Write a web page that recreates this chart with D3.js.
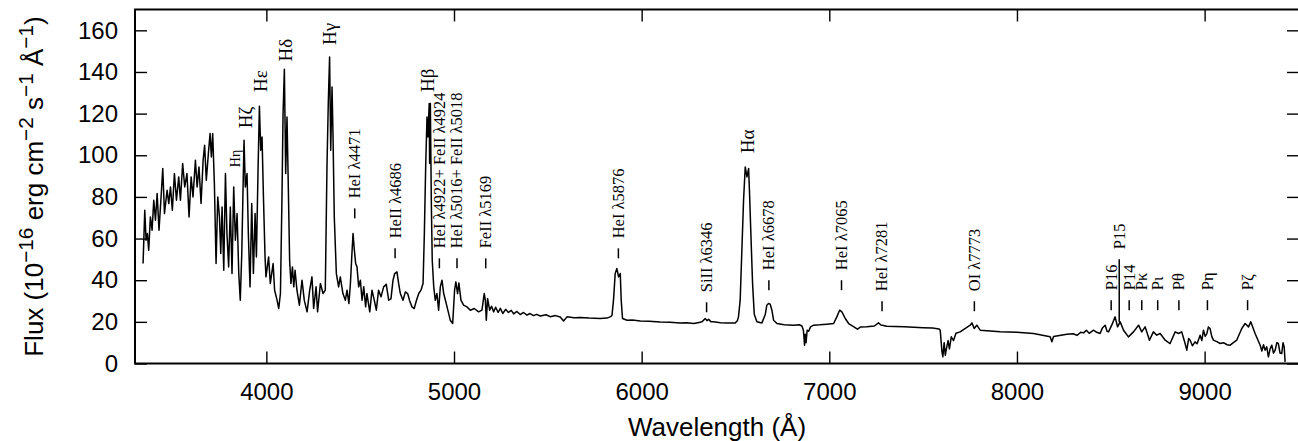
<!DOCTYPE html>
<html>
<head>
<meta charset="utf-8">
<script src="https://d3js.org/d3.v7.min.js"></script>
<style>
  body { margin: 0; background: #fff; }
  svg { display: block; }
</style>
</head>
<body>
<script>
// spectrum: wavelength (A) and flux (1e-16 erg/cm2/s/A)
var waves = [
  3343,3352,3359,3366,3373,3382,3391,3400,3409,3418,3428,3439,3448,3457,3471,3480,3489,3499,3510,3521,
  3533,3542,3554,3565,3577,3588,3599,3609,3622,3631,3641,3652,3663,3671,3680,3691,3700,3707,3714,3723,
  3732,3741,3750,3757,3764,3773,3782,3790,3799,3808,3817,3826,3835,3844,3853,3861,3869,3876,3881,3888,
  3897,3904,3913,3922,3931,3940,3947,3956,3963,3970,3977,3984,3993,3998,4012,4021,4036,4044,4057,4066,
  4075,4083,4089,4096,4103,4110,4117,4124,4131,4139,4146,4153,4163,4176,4190,4202,4217,4231,4243,4252,
  4265,4273,4288,4302,4314,4323,4330,4337,4343,4350,4355,4362,4373,4385,4394,4408,4421,4430,4440,4448,
  4456,4462,4469,4476,4483,4492,4501,4510,4519,4529,4536,4551,4563,4575,4586,4598,4611,4625,4639,4652,
  4664,4675,4684,4696,4705,4714,4728,4741,4753,4764,4776,4788,4799,4812,4824,4835,4842,4849,4856,4861,
  4865,4868,4870,4874,4879,4884,4892,4900,4909,4918,4927,4936,4945,4963,4980,4993,5003,5010,5019,5026,
  5037,5051,5069,5087,5108,5131,5149,5161,5167,5172,5179,5190,5200,5211,5222,5235,5247,5260,5275,5290,
  5305,5318,5335,5353,5370,5389,5405,5424,5440,5460,5490,5513,5540,5566,5584,5602,5640,5673,5720,5779,
  5815,5835,5842,5850,5859,5868,5877,5886,5891,5898,5922,5950,5993,6040,6099,6150,6206,6240,6277,6300,
  6321,6339,6348,6357,6370,6383,6420,6454,6499,6510,6516,6525,6534,6543,6552,6561,6570,6575,6582,6591,
  6600,6614,6641,6659,6667,6676,6685,6694,6703,6721,6760,6809,6840,6854,6862,6868,6872,6876,6882,6890,
  6900,6916,6950,6987,7023,7040,7055,7067,7085,7103,7131,7150,7165,7200,7240,7262,7275,7307,7350,7400,
  7450,7500,7550,7585,7591,7600,7605,7612,7618,7626,7633,7640,7650,7662,7675,7697,7751,7760,7772,7786,
  7804,7911,8000,8088,8177,8186,8195,8266,8300,8320,8340,8355,8370,8385,8408,8425,8443,8455,8470,8480,
  8488,8505,8523,8536,8550,8568,8594,8621,8648,8665,8683,8706,8727,8745,8763,8790,8816,8843,8861,8878,
  8896,8905,8915,8923,8935,8949,8960,8976,8985,8994,9003,9012,9020,9029,9038,9047,9065,9083,9100,9120,
  9136,9150,9171,9198,9216,9234,9246,9269,9296,9305,9314,9322,9331,9340,9349,9358,9367,9376,9385,9393,
  9402,9411,9418,9424,9429
];
var flux = [
  48.0,73.6,59.2,62.4,54.4,70.4,64.0,78.4,68.8,81.6,64.0,80.0,93.6,72.0,83.2,76.8,84.8,73.6,91.2,78.4,
  89.6,78.4,96.0,84.8,91.2,70.4,89.6,80.0,97.6,84.8,94.4,76.8,97.6,104.8,88.0,100.8,110.4,99.2,110.4,86.4,
  48.0,80.0,70.4,52.8,75.2,44.8,91.2,62.4,46.4,75.2,43.2,84.8,59.2,72.0,43.2,30.4,52.8,84.8,107.2,84.8,
  91.2,62.4,36.8,76.8,43.2,72.0,51.2,94.4,123.5,102.4,108.8,81.6,51.2,41.6,51.2,38.4,48.0,35.2,30.4,26.4,
  33.6,78.4,120.0,141.3,91.2,118.4,84.8,49.6,38.4,46.4,36.8,44.8,35.2,28.0,40.0,30.4,24.8,35.2,41.6,26.4,
  36.8,24.8,38.4,33.6,35.2,94.4,125.0,147.2,102.4,132.8,110.4,70.4,43.2,36.8,41.6,33.6,30.4,35.2,28.8,38.4,
  52.8,62.4,54.4,48.0,46.4,36.8,40.0,30.4,36.8,27.2,33.6,24.8,35.2,30.4,25.6,35.2,32.0,36.8,38.0,30.4,
  31.0,40.0,43.2,44.0,38.4,33.6,30.4,34.4,33.6,30.0,27.2,26.4,30.0,33.6,35.2,38.4,62.4,94.4,118.4,108.8,
  118.4,124.8,96.0,124.8,78.4,49.6,36.8,30.4,33.6,25.6,36.8,40.0,33.6,27.2,20.8,19.2,35.2,39.2,33.6,38.7,
  30.4,28.0,27.2,25.6,26.4,24.8,25.6,33.6,30.4,20.8,31.2,25.6,27.5,24.8,27.0,24.5,26.5,24.0,26.0,24.5,
  25.5,23.8,25.0,23.5,24.5,23.2,24.0,23.0,23.6,22.8,23.4,22.5,23.0,22.3,20.4,22.4,22.0,22.1,21.8,21.6,
  21.8,22.5,23.2,30.4,43.2,45.6,41.6,43.2,30.4,21.6,20.8,20.9,20.4,20.3,19.9,19.8,19.5,19.6,19.2,19.6,
  20.0,21.6,20.6,21.2,20.0,20.0,19.6,19.5,19.5,20.5,22.4,30.4,54.4,78.4,94.4,89.6,93.6,81.6,62.4,38.4,
  23.7,20.0,19.5,23.7,28.0,28.8,28.5,25.6,20.8,19.2,18.6,18.4,18.6,18.0,16.0,8.8,14.0,10.0,16.0,15.5,
  17.6,18.4,18.6,18.9,19.2,22.4,25.6,24.8,21.6,19.2,17.6,16.5,17.5,17.6,18.0,19.5,18.5,17.9,17.8,17.6,
  17.4,17.2,17.0,16.6,16.0,6.0,3.2,10.0,4.0,8.0,11.0,7.0,12.8,11.0,14.5,15.2,18.4,19.5,16.8,18.4,
  16.0,15.2,15.0,14.4,12.8,10.4,13.0,14.1,14.3,13.5,15.0,14.7,16.0,14.5,16.0,15.0,14.4,17.0,18.4,15.5,
  15.2,18.4,22.4,17.6,20.0,16.0,12.8,15.2,18.4,15.2,17.6,11.2,15.2,13.6,14.4,11.2,9.6,15.2,14.4,15.2,
  9.6,6.4,12.0,11.2,8.5,10.4,9.5,13.6,11.0,16.0,13.0,14.4,17.5,16.8,13.0,11.2,10.5,9.6,10.0,9.0,
  8.8,9.8,11.2,16.8,19.2,17.6,20.0,14.4,8.8,6.0,9.0,6.4,8.0,3.2,7.0,8.8,5.0,6.4,10.0,9.6,
  5.0,4.8,10.0,8.0,0.8
];

// marked lines: name, wavelength, flux where the mark starts and ends
var lineNames = ["HeI λ4471", "HeII λ4686", "HeI λ4922+ FeII λ4924", "HeI λ5016+ FeII λ5018",
  "FeII λ5169", "HeI λ5876", "SiII λ6346", "HeI λ6678", "HeI λ7065", "HeI λ7281", "OI λ7773",
  "P16", "P15", "P14", "Pκ", "Pι", "Pθ", "Pη", "Pζ"];
var lineWaves = [4471, 4686, 4922, 5016, 5169, 5876, 6346, 6678, 7065, 7281, 7773,
  8502, 8545, 8598, 8665, 8750, 8863, 9015, 9229];
var markLow = [69.7, 50.5, 45.7, 45.7, 45.7, 50.5, 24.6, 35.2, 35.2, 25.1, 25.1,
  25.6, 19.8, 25.6, 25.6, 25.6, 25.6, 25.6, 25.6];
var markHigh = [74.5, 55.3, 50.5, 50.5, 50.5, 55.3, 29.4, 40.0, 40.0, 29.9, 29.9,
  30.4, 50.1, 30.4, 30.4, 30.4, 30.4, 30.4, 30.4];

// Balmer labels: name, wavelength, flux where the label starts
var balmerNames = ["Hη", "Hζ", "Hε", "Hδ", "Hγ", "Hβ", "Hα"];
var balmerWaves = [3835, 3889, 3970, 4102, 4340, 4861, 6563];
var balmerLevels = [94.3, 113, 130.4, 145, 153, 130.4, 101];

var xTicks = [4000, 5000, 6000, 7000, 8000, 9000];
var yTicks = [0, 20, 40, 60, 80, 100, 120, 140, 160];

var w = 1298, h = 441;
var pLeft = 135, pRight = 1299, pTop = 9.5, pBottom = 363.5;
var sans = "'Liberation Sans', Arial, Helvetica, sans-serif";
var serif = "'Liberation Serif', 'Times New Roman', Times, serif";

var svg = d3.select("body")
  .append("svg")
  .attr("width", w)
  .attr("height", h);

var x = d3.scaleLinear().domain([3300, 9503]).range([pLeft, pRight]);
var y = d3.scaleLinear().domain([0, 170]).range([pBottom, pTop]);

// bottom axis with labels
var gx = svg.append("g")
  .attr("transform", "translate(0," + pBottom + ")")
  .call(d3.axisBottom(x).tickValues(xTicks).tickSize(-12).tickPadding(19.5).tickFormat(d3.format("d")));

// left axis with labels
var gy = svg.append("g")
  .attr("transform", "translate(" + pLeft + ",0)")
  .call(d3.axisLeft(y).tickValues(yTicks).tickSize(-12).tickPadding(17));

// mirrored ticks on top and right
var gt = svg.append("g")
  .attr("transform", "translate(0," + pTop + ")")
  .call(d3.axisTop(x).tickValues(xTicks).tickSize(-12).tickFormat(""));
var gr = svg.append("g")
  .attr("transform", "translate(" + pRight + ",0)")
  .call(d3.axisRight(y).tickValues(yTicks).tickSize(-12).tickFormat(""));

[gx, gy, gt, gr].forEach(function(g) {
  g.select(".domain").remove();
  g.selectAll(".tick line").attr("stroke", "#000").attr("stroke-width", 1.4);
  g.selectAll(".tick text")
    .attr("fill", "#000")
    .attr("font-family", sans)
    .attr("font-size", 24);
});
gx.attr("font-family", sans).attr("font-size", 24);
gy.attr("font-family", sans).attr("font-size", 24);

// frame
svg.append("rect")
  .attr("x", pLeft)
  .attr("y", pTop)
  .attr("width", pRight - pLeft)
  .attr("height", pBottom - pTop)
  .attr("fill", "none")
  .attr("stroke", "#000")
  .attr("stroke-width", 2);

// the spectrum
var line = d3.line()
  .x(function(d) { return x(d[0]); })
  .y(function(d) { return y(d[1]); });

svg.append("path")
  .datum(d3.zip(waves, flux))
  .attr("d", line)
  .attr("fill", "none")
  .attr("stroke", "#000")
  .attr("stroke-width", 1.5)
  .attr("stroke-linejoin", "round");

// line marks and their labels
for (var i = 0; i < lineNames.length; i++) {
  var lx = x(lineWaves[i]);
  svg.append("line")
    .attr("x1", lx).attr("x2", lx)
    .attr("y1", y(markLow[i])).attr("y2", y(markHigh[i]))
    .attr("stroke", "#000")
    .attr("stroke-width", 1.5);
  var ty = y(markHigh[i]) - 10;
  svg.append("text")
    .attr("x", lx)
    .attr("y", ty)
    .attr("dy", "0.33em")
    .attr("transform", "rotate(-90," + lx + "," + ty + ")")
    .attr("font-family", serif)
    .attr("font-size", 16.5)
    .text(lineNames[i]);
}

// Balmer labels
for (var j = 0; j < balmerNames.length; j++) {
  var bx = x(balmerWaves[j]);
  var by = y(balmerLevels[j]);
  svg.append("text")
    .attr("x", bx)
    .attr("y", by)
    .attr("dy", "0.33em")
    .attr("transform", "rotate(-90," + bx + "," + by + ")")
    .attr("font-family", serif)
    .attr("font-size", balmerNames[j] == "Hη" ? 14 : 19)
    .text(balmerNames[j]);
}

// axis titles
svg.append("text")
  .attr("x", (pLeft + pRight) / 2)
  .attr("y", 436)
  .attr("text-anchor", "middle")
  .attr("font-family", sans)
  .attr("font-size", 26)
  .text("Wavelength (Å)");

var yt = svg.append("text")
  .attr("transform", "translate(43," + ((pTop + pBottom) / 2) + ") rotate(-90)")
  .attr("text-anchor", "middle")
  .attr("font-family", sans)
  .attr("font-size", 26);
var parts = [["Flux (10", false], ["−16", true], [" erg cm", false], ["−2", true],
  [" s", false], ["−1", true], [" Å", false], ["−1", true], [")", false]];
var shift = 0;
parts.forEach(function(p) {
  var up = p[1] ? -10 : 0;
  yt.append("tspan")
    .attr("dy", up - shift)
    .attr("font-size", p[1] ? 20.8 : 26)
    .text(p[0]);
  shift = up;
});
</script>
</body>
</html>
